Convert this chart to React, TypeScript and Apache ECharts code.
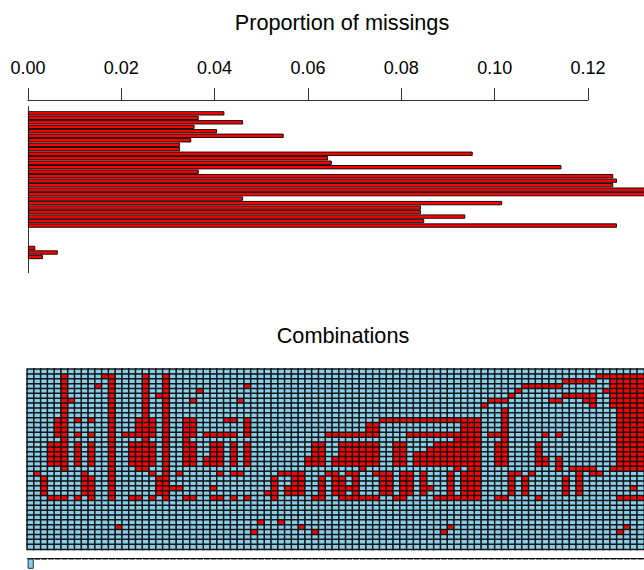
import React, { useEffect, useRef } from "react";
import * as echarts from "echarts";

const FONT = "'Liberation Sans', Arial, Helvetica, sans-serif";

// 37 variables (top to bottom)
const variables = [
  "V1","V2","V3","V4","V5","V6","V7","V8","V9","V10","V11","V12","V13","V14","V15","V16","V17","V18","V19",
  "V20","V21","V22","V23","V24","V25","V26","V27","V28","V29","V30","V31","V32","V33","V34","V35","V36","V37",
];

// proportion of missing values per variable
const propMissing = [
  0, 0.0421, 0.0366, 0.0461, 0.0357, 0.0405, 0.0548, 0.035, 0.0326, 0.0326,
  0.0953, 0.0643, 0.0651, 0.1143, 0.0366, 0.1254, 0.1262, 0.1254, 0.142, 0.14,
  0.0461, 0.1016, 0.0842, 0.0842, 0.0937, 0.0849, 0.1262, 0, 0, 0,
  0, 0.0016, 0.0064, 0.0032, 0, 0, 0,
];

const xTicks = [0, 0.02, 0.04, 0.06, 0.08, 0.1, 0.12];

// combinations: rows (0-based variable index) that are missing in each combination
const combos = [
  "", "21", "22-25", "15-19,26", "10-13,15-19,26", "1-20,26", "6", "10,13,15-19,26", "21-25", "10,13,15-19,22-26",
  "3", "1", "1-26", "32", "13", "13,15-19,26", "10-13,15-20,26", "1-20", "10-13,15-19,21,26", "5,22-25",
  "1-26", "24", "21,24", "10-19,26", "6,10-13,15-19,26", "4", "13,18-19", "13,15-19,24,26", "13,15-19,21,26", "10,13",
  "10,13,15-19,21,26", "6,21", "3,10-13,15-19,26", "33", "31", "25", "22-26", "21,31", "21,24-25", "21-25",
  "21-25,32", "18-19", "15-19,26,33", "15-19,22-26", "13,21", "13,18-19,21-25", "13,15-19,22-26", "13,15-19,21,24,26", "13,15-19,21-26", "13,15-20,26",
  "11-13,15-19,26", "11-13,15-19,21,26", "10,21-25", "10,21-25", "10,15-19,26", "10,15-19,21-26", "10,13,21-25", "10,13,17-19", "10,13,17-19,21-25", "10,13,16-19,24",
  "10,13,15-19,26", "10,13,15-19,26,33", "10,13,15-19,21-26,32", "10,13-20,26", "10-19,21-26", "10-26", "10-26", "7", "6,13", "6,13,15-19,26",
  "6,8-19,26", "5,21-25", "4,21", "3,22-25", "3,21", "3,15-19,26", "3,13,18-19", "3,6", "3,6,13,18-20", "2,5,22-25",
  "2,5,20", "2,5,20-25", "2,5-6,20", "2,5-7,20-21", "1,21", "1,4", "1-7,20", "1-20,26,33", "1-20,26,32", "1-20,24,26",
  "1-20,26",
];

// frequency of each combination (panel cut off at the bottom)
const comboFreq = [
  40, 2, 2, 1, 1, 1, 1, 1, 1, 1, 1, 1, 1, 1, 1, 1, 1, 1, 1, 1,
  1, 1, 1, 1, 1, 1, 1, 1, 1, 1, 1, 1, 1, 1, 1, 1, 1, 1, 1, 1,
  1, 1, 1, 1, 1, 1, 1, 1, 1, 1, 1, 1, 1, 1, 1, 1, 1, 1, 1, 1,
  1, 1, 1, 1, 1, 1, 1, 1, 1, 1, 1, 1, 1, 1, 1, 1, 1, 1, 1, 1,
  1, 1, 1, 1, 1, 1, 1, 1, 1, 1, 1,
];

function parseRows(s: string): Set<number> {
  const out = new Set<number>();
  if (!s) return out;
  for (const part of s.split(",")) {
    const [a, b] = part.split("-").map(Number);
    if (b === undefined || isNaN(b)) out.add(a);
    else for (let k = a; k <= b; k++) out.add(k);
  }
  return out;
}

export default function App() {
  const ref = useRef<HTMLDivElement>(null);
  useEffect(() => {
    if (!ref.current) return;
    const chart = echarts.init(ref.current, undefined, { renderer: "svg" });
    const comboNames = combos.map((_, i) => `C${i + 1}`);
    const heat: any[] = [];
    combos.forEach((s, c) => {
      const set = parseRows(s);
      variables.forEach((_, r) => heat.push([c, r, set.has(r) ? 1 : 0]));
    });
    const barLeft = 27.9;
    const barRight = 588;
    const cellW = 6.83;
    const axisCol = "#333";
    chart.setOption({
      animation: false,
      title: [
        {
          text: "Proportion of missings",
          left: 337,
          top: 6,
          textAlign: "center",
          textStyle: { fontSize: 21.7, fontWeight: "normal", color: "#000", fontFamily: FONT },
        },
        {
          text: "Combinations",
          left: 338,
          top: 319,
          textAlign: "center",
          textStyle: { fontSize: 21.7, fontWeight: "normal", color: "#000", fontFamily: FONT },
        },
      ],
      grid: [
        { left: barLeft, top: 106.6, width: barRight - barLeft, height: 166.1 },
        { left: 27.3, top: 369.3, width: cellW * combos.length, height: 180 },
        { left: 27.3, top: 558.7, width: cellW * combos.length, height: 100 },
      ],
      xAxis: [
        {
          type: "value",
          gridIndex: 0,
          position: "top",
          min: xTicks[0],
          max: xTicks[xTicks.length - 1],
          interval: 0.02,
          offset: 6.6,
          axisLine: { show: true, lineStyle: { color: axisCol, width: 1 } },
          axisTick: { show: true, length: 12, lineStyle: { color: axisCol, width: 1 } },
          axisLabel: {
            formatter: (v: number) => v.toFixed(2),
            fontSize: 18,
            color: "#000",
            fontFamily: FONT,
            margin: 23,
          },
          splitLine: { show: false },
        },
        { type: "category", gridIndex: 1, data: comboNames, show: false },
        {
          type: "category",
          gridIndex: 2,
          data: comboNames,
          position: "top",
          axisLine: { show: true, lineStyle: { color: axisCol, width: 1 } },
          axisTick: { show: false },
          axisLabel: { show: false },
        },
      ],
      yAxis: [
        {
          type: "category",
          gridIndex: 0,
          data: variables,
          inverse: true,
          axisLine: { show: true, lineStyle: { color: axisCol, width: 1 } },
          axisTick: { show: false },
          axisLabel: { show: false },
        },
        { type: "category", gridIndex: 1, data: variables, inverse: true, show: false },
        { type: "value", gridIndex: 2, inverse: true, min: 0, max: 100, show: false },
      ],
      visualMap: {
        type: "piecewise",
        show: false,
        seriesIndex: 1,
        dimension: 2,
        pieces: [
          { value: 0, color: "#87CEEB" },
          { value: 1, color: "#FF0000" },
        ],
      },
      series: [
        {
          type: "bar",
          xAxisIndex: 0,
          yAxisIndex: 0,
          data: propMissing.map((v) => (v === 0 ? "-" : v)),
          barWidth: 4.3,
          clip: false,
          itemStyle: { color: "#FF0000", borderColor: "#000", borderWidth: 0.9 },
        },
        {
          type: "heatmap",
          xAxisIndex: 1,
          yAxisIndex: 1,
          data: heat,
          progressive: 0,
          itemStyle: { borderColor: "#151515", borderWidth: 1.5 },
          emphasis: { disabled: true },
        },
        {
          type: "bar",
          xAxisIndex: 2,
          yAxisIndex: 2,
          data: comboFreq,
          barWidth: 6,
          itemStyle: { color: "#87CEEB", borderColor: "#000", borderWidth: 0.8 },
        },
      ],
    });
    return () => chart.dispose();
  }, []);
  return (
    <div
      ref={ref}
      style={{ position: "fixed", left: 0, top: 0, width: 644, height: 570, background: "#fff" }}
    />
  );
}
